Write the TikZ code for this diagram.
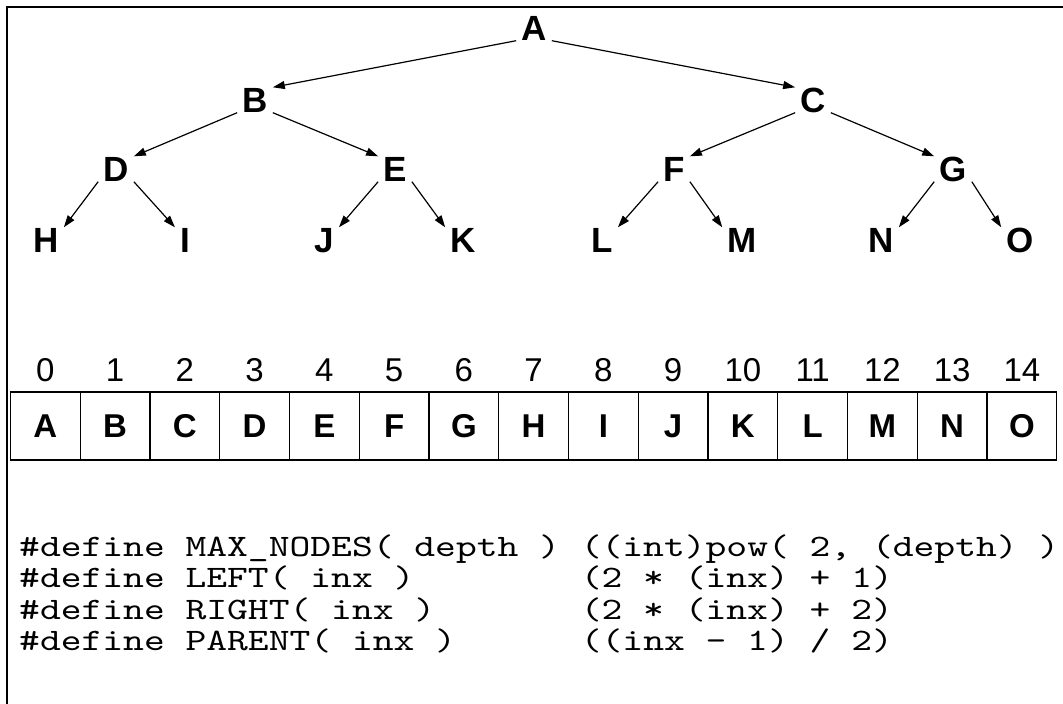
\documentclass[tikz,border=0pt]{standalone}
\usepackage{fontspec}
\setmainfont{Liberation Sans}
\newfontfamily\codefont[FakeStretch=1.27]{lmmono10-regular.otf}
\usetikzlibrary{arrows.meta}
\begin{document}
\begin{tikzpicture}[x=1pt,y=-1pt,
  tn/.style={font=\fontsize{35}{35}\selectfont\bfseries, inner xsep=5pt, inner ysep=0pt, text height=25pt, text depth=0pt},
  edge/.style={line width=1.2pt, -{Triangle[length=12pt,width=8pt]}},
  cell/.style={draw, line width=1.3pt, minimum width=69.75pt, minimum height=68pt, inner sep=0pt, font=\fontsize{33}{33}\selectfont\bfseries},
  idx/.style={font=\fontsize{33}{33}\selectfont, inner sep=0pt},
  code/.style={font=\codefont\fontsize{31.2}{31.2}\selectfont, anchor=base west, inner sep=0pt},
  frame/.style={line width=2.5pt}]
\useasboundingbox (0,0) rectangle (1063,704);
\draw[frame] (7,704) -- (7,7) -- (1063,7);
% tree
\node[tn] (A) at (534,28) {A};
\node[tn] (B) at (255,100) {B};
\node[tn] (C) at (813,100) {C};
\node[tn] (D) at (116,169) {D};
\node[tn] (E) at (395,169) {E};
\node[tn] (F) at (674,169) {F};
\node[tn] (G) at (953,169) {G};
\node[tn] (H) at (46,240) {H};
\node[tn] (I) at (185,240) {I};
\node[tn] (J) at (324,240) {J};
\node[tn] (K) at (463,240) {K};
\node[tn] (L) at (602,240) {L};
\node[tn] (M) at (742,240) {M};
\node[tn] (N) at (881,240) {N};
\node[tn] (O) at (1020,240) {O};
\foreach \p/\l/\r in {A/B/C,B/D/E,C/F/G,D/H/I,E/J/K,F/L/M,G/N/O}{
  \draw[edge] (\p.south west) -- (\l.north east);
  \draw[edge] (\p.south east) -- (\r.north west);
}
% array
\foreach \l [count=\j from 0] in {A,B,C,D,E,F,G,H,I,J,K,L,M,N,O}{
  \node[cell] (c\j) at ({10.5+69.75*(\j+0.5)},426) {\l};
  \node[idx] (n\j) at ({10.5+69.75*(\j+0.5)},370) {\j};
}
% code
\node[code] (l1) at (19,556) {\#define MAX\_NODES( depth ) ((int)pow( 2, (depth) )};
\node[code] (l2) at (19,587.5) {\#define LEFT( inx )\ \ \ \ \ \ \ \ (2 * (inx) + 1)};
\node[code] (l3) at (19,619) {\#define RIGHT( inx )\ \ \ \ \ \ \ (2 * (inx) + 2)};
\node[code] (l4) at (19,650.5) {\#define PARENT( inx )\ \ \ \ \ \ ((inx - 1) / 2)};
\end{tikzpicture}
\end{document}
